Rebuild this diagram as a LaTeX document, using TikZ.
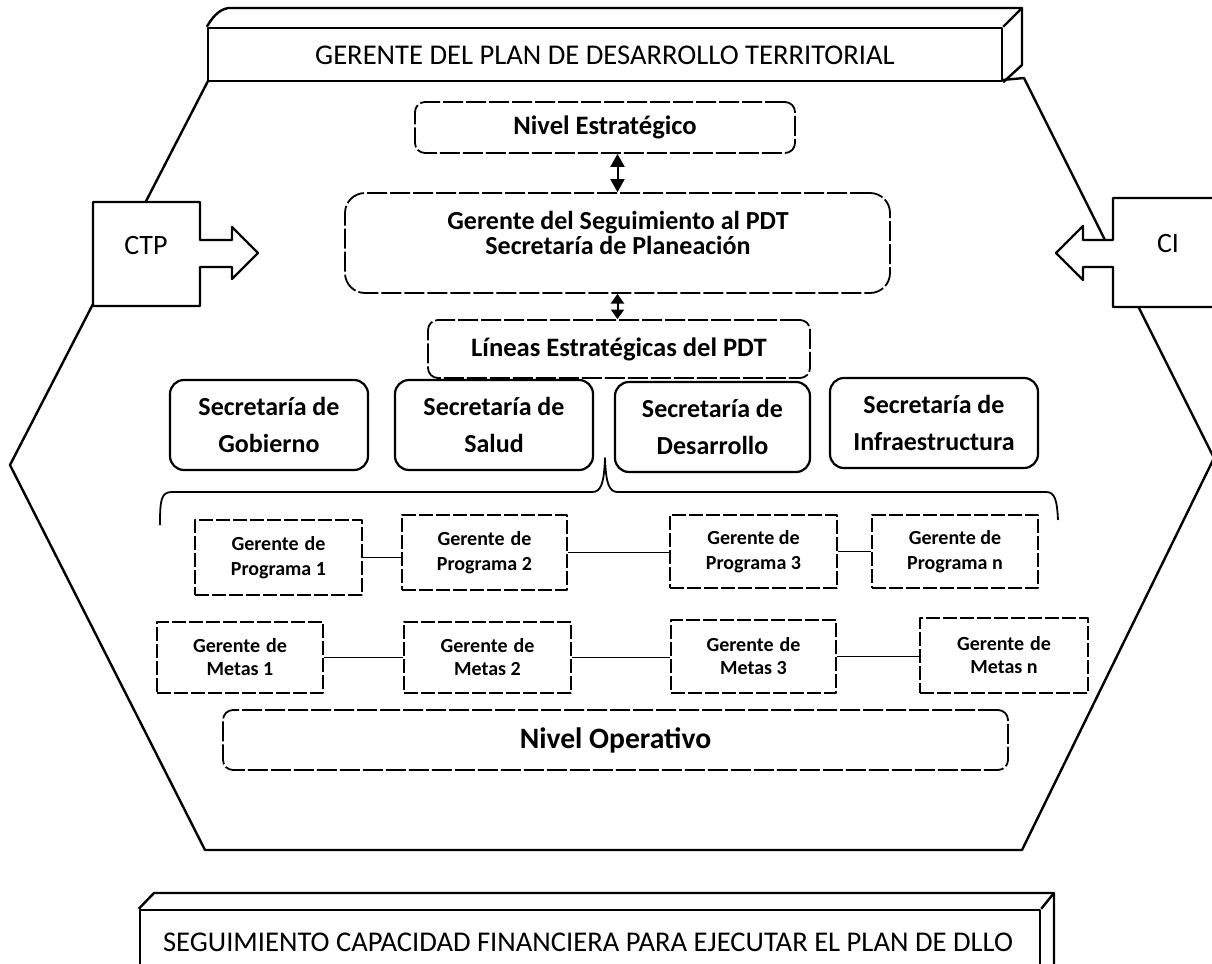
\documentclass[tikz,border=0pt]{standalone}
\usepackage{fontspec}
\setmainfont{Carlito}
\usetikzlibrary{arrows.meta}
\newcommand\mybox[7]{\node[#2, minimum width={(#5-#3)*0.5pt}, minimum height={(#6-#4)*0.5pt}] (#1) at ({(#3+#5)/2},{(#4+#6)/2}) {#7};}
\newcommand\wsp{\hspace{0.3em}}
\begin{document}
\begin{tikzpicture}[x=0.5pt,y=-0.5pt,line join=round,
  hexline/.style={line width=1.2pt},
  bannerline/.style={line width=1.2pt},
  plain/.style={draw, line width=1.2pt, fill=white, inner sep=0pt},
  dbox/.style={draw, line width=0.9pt, dash pattern=on 10pt off 1.5pt, rounded corners=5pt, inner sep=0pt, align=center},
  secbox/.style={draw, line width=1.1pt, rounded corners=7pt, inner sep=0pt, align=center, font=\bfseries\fontsize{13}{18.5}\selectfont},
  gbox/.style={draw, line width=0.9pt, dash pattern=on 7pt off 1.5pt, inner sep=0pt, align=center, font=\bfseries\fontsize{10}{12.5}\selectfont},
  mbox/.style={draw, line width=0.9pt, dash pattern=on 7pt off 1.5pt, inner sep=0pt, align=center, font=\bfseries\fontsize{10}{11.5}\selectfont},
  bigtext/.style={font=\fontsize{14.3}{17}\selectfont},
  sidetext/.style={font=\fontsize{14}{17}\selectfont},
  link/.style={line width=0.9pt},
  dbl/.style={line width=1pt, {Triangle[length=6.5pt,width=7pt]}-{Triangle[length=6.5pt,width=7pt]}},
  dblshort/.style={line width=1pt, {Triangle[length=4.8pt,width=6.5pt]}-{Triangle[length=4.8pt,width=6.5pt]}},
  arrowshape/.style={draw, line width=1.1pt, fill=white}
]
\clip (0,0) rectangle (1212,964);
\fill[white] (0,0) rectangle (1212,964);

% hexagon
\coordinate (hTL) at (208,81);
\coordinate (hL) at (10,465);
\coordinate (hBL) at (205,850);
\coordinate (hBR) at (1022,850);
\coordinate (hR) at (1214,458);
\coordinate (hTRa) at (1002,80);
\coordinate (hTR) at (1024,78);
\draw[hexline] (hTL) -- (hL) -- (hBL) -- (hBR) -- (hR) -- (hTR) -- (hTRa);

% top banner
\mybox{topfront}{plain}{208}{28}{1002}{81}{}
\draw[bannerline] (topfront.north west) .. controls (212,18) and (218,10) .. (228,8) -- (1022,8) -- (topfront.north east);
\draw[bannerline] (1022,8) -- (1022,65) -- (topfront.south east);
\node[bigtext] (toptext) at (605,55) {GERENTE DEL PLAN DE DESARROLLO TERRITORIAL};

% bottom banner
\mybox{botfront}{plain}{140}{910}{1040}{1010}{}
\draw[bannerline] (botfront.north west) -- (154,893) -- (1054,893) -- (botfront.north east);
\draw[bannerline] (1054,893) -- (1054,990) -- (1040,1005);
\node[bigtext] (bottext) at (588,942) {SEGUIMIENTO CAPACIDAD FINANCIERA PARA EJECUTAR EL PLAN DE DLLO};

% CTP block arrow
\draw[arrowshape] (93,202) -- (200,202) -- (200,240) -- (232,240) -- (232,227) -- (258,253) -- (232,279) -- (232,267) -- (200,267) -- (200,306) -- (93,306) -- cycle;
\node[sidetext] (ctp) at (146,246) {CTP};

% CI block arrow
\draw[arrowshape] (1113,198) -- (1230,198) -- (1230,307) -- (1113,307) -- (1113,267) -- (1083,267) -- (1083,280) -- (1056,253) -- (1083,226) -- (1083,240) -- (1113,240) -- cycle;
\node[sidetext] (ci) at (1168,244) {CI};

% strategic level
\mybox{nivel}{dbox, font=\bfseries\fontsize{13.3}{15}\selectfont}{415}{102}{795}{153}{Nivel Estratégico}
\mybox{ger}{dbox, rounded corners=10pt}{345}{193}{890}{293}{}
\node[font=\bfseries\fontsize{13}{12.5}\selectfont, align=center] (gertext) at (618,233) {Gerente del Seguimiento al PDT\\Secretaría de Planeación};
\mybox{lineas}{dbox, font=\bfseries\fontsize{13.3}{15}\selectfont}{428}{320}{810}{378}{Líneas Estratégicas del PDT}
\draw[dbl] (nivel.south -| ger.north) -- (ger.north);
\draw[dblshort] (ger.south) -- (lineas.north -| ger.south);

% secretarias
\mybox{gob}{secbox}{170}{380}{368}{470}{Secretaría de\\Gobierno}
\mybox{sal}{secbox}{395}{380}{593}{470}{Secretaría de\\Salud}
\mybox{des}{secbox}{615}{382}{810}{472}{Secretaría de\\Desarrollo}
\mybox{inf}{secbox}{830}{378}{1038}{468}{Secretaría de\\Infraestructura}

% brace
\draw[line width=0.9pt] (160,525) .. controls (160,500) and (161,492) .. (172,492) -- (592,492) .. controls (601,492) and (604,484) .. (605,458) .. controls (606,484) and (609,492) .. (618,492) -- (1046,492) .. controls (1055,492) and (1057,500) .. (1058,520);

% programas
\mybox{p1}{gbox}{195}{520}{362}{595}{Gerente\wsp de\\Programa 1}
\mybox{p2}{gbox}{402}{515}{567}{590}{Gerente\wsp de\\Programa 2}
\mybox{p3}{gbox}{670}{515}{837}{588}{Gerente de\\Programa 3}
\mybox{pn}{gbox}{872}{515}{1038}{588}{Gerente de\\Programa n}
\draw[link] (p1.east) -- (p1.east -| p2.west);
\draw[link] (p2.east) -- (p2.east -| p3.west);
\draw[link] (p3.east) -- (p3.east -| pn.west);

% metas
\mybox{m1}{mbox}{157}{622}{323}{693}{Gerente\wsp de\\Metas 1}
\mybox{m2}{mbox}{404}{622}{571}{693}{Gerente\wsp de\\Metas 2}
\mybox{m3}{mbox}{671}{620}{836}{693}{Gerente\wsp de\\Metas 3}
\mybox{mn}{mbox}{920}{618}{1088}{693}{Gerente\wsp de\\Metas n}
\draw[link] (m1.east) -- (m1.east -| m2.west);
\draw[link] (m2.east) -- (m2.east -| m3.west);
\draw[link] (m3.east) -- (m3.east -| mn.west);

% operative level
\mybox{oper}{dbox, font=\bfseries\fontsize{14.8}{17}\selectfont}{223}{710}{1008}{770}{Nivel Operativo}
\end{tikzpicture}
\end{document}
